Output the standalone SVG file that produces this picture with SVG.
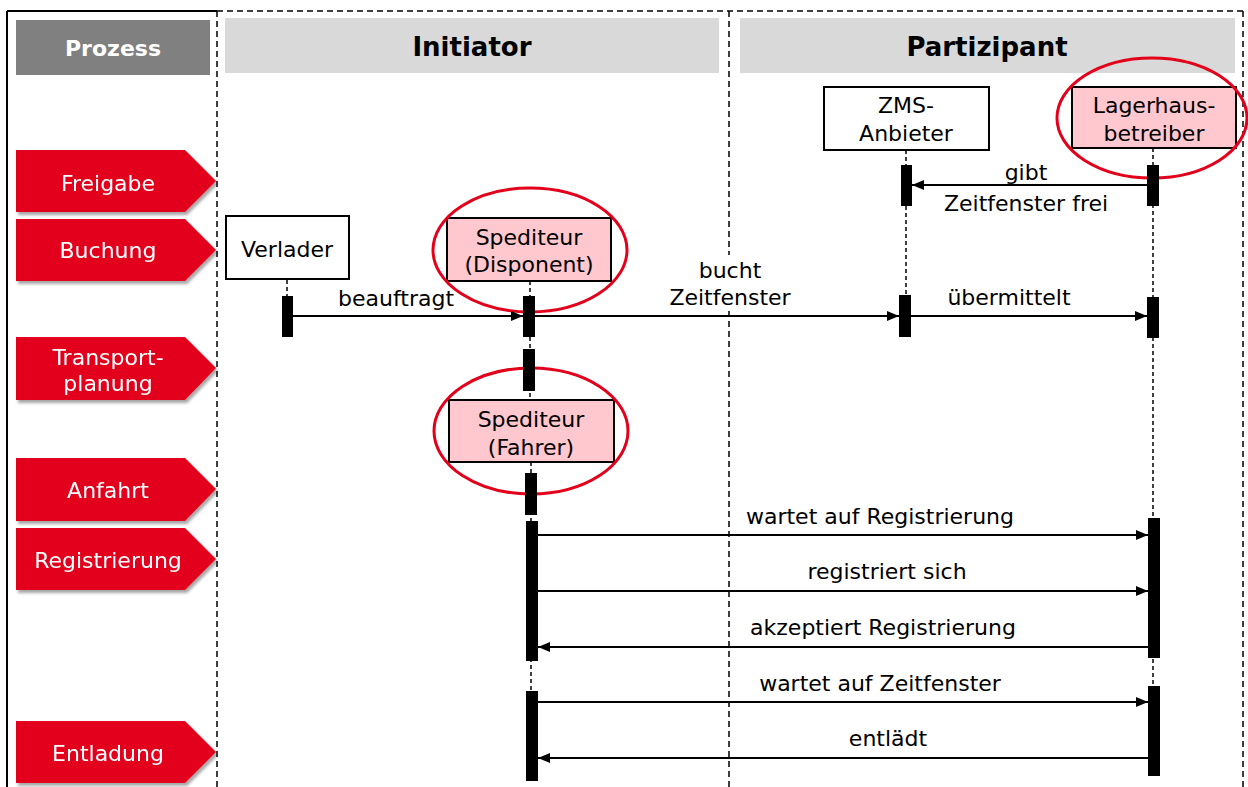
<svg xmlns="http://www.w3.org/2000/svg" width="1248" height="787" viewBox="0 0 1248 787">
  <defs>
    <style>
      text { font-family: "DejaVu Sans", "Liberation Sans", sans-serif; fill: #000; }
      .hdr { font-weight: bold; font-size: 26px; text-anchor: middle; }
      .phase { fill: #e3001b; }
      .phase-t { fill: #fff; font-size: 22px; text-anchor: middle; }
      .box { fill: #fff; stroke: #000; stroke-width: 2; }
      .box.hl { fill: #ffc7ce; }
      .mark { fill: none; stroke: #e3001b; stroke-width: 3; }
      .lbl { font-size: 22px; text-anchor: middle; }
      .life { stroke: #000; stroke-width: 1.5; stroke-dasharray: 4 3; fill: none; }
      .bar { fill: #000; }
      .msg { stroke: #000; stroke-width: 2; fill: none; marker-end: url(#head); }
      .sep { stroke: #000; stroke-width: 1.5; stroke-dasharray: 6 4; fill: none; }
    </style>
    <marker id="head" viewBox="0 0 12 10" refX="12" refY="5" markerWidth="12" markerHeight="10" markerUnits="userSpaceOnUse" orient="auto">
      <path d="M0,0 L12,5 L0,10 z" fill="#000"/>
    </marker>
    <filter id="shadow" x="-10%" y="-10%" width="130%" height="140%">
      <feDropShadow dx="2" dy="3" stdDeviation="1.8" flood-color="#000" flood-opacity="0.35"/>
    </filter>
  </defs>

  <rect width="1248" height="787" fill="#fff"/>

  <!-- frame and lane separators -->
  <g id="frame">
    <line x1="7" y1="11" x2="7" y2="787" stroke="#000" stroke-width="2"/>
    <line x1="7" y1="11" x2="217" y2="11" stroke="#000" stroke-width="2"/>
    <line class="sep" x1="217" y1="11" x2="1243" y2="11"/>
    <line class="sep" x1="217" y1="11" x2="217" y2="787"/>
    <line class="sep" x1="729" y1="11" x2="729" y2="787"/>
    <line class="sep" x1="1243" y1="11" x2="1243" y2="787"/>
  </g>

  <!-- column headers -->
  <g id="headers">
    <rect x="16" y="20" width="194" height="55" fill="#808080"/>
    <text x="113" y="56" class="hdr" style="font-size:22px;fill:#fff">Prozess</text>
    <rect x="225" y="18" width="494" height="55" fill="#d9d9d9"/>
    <text x="472" y="56" class="hdr">Initiator</text>
    <rect x="740" y="18" width="495" height="55" fill="#d9d9d9"/>
    <text x="987" y="56" class="hdr">Partizipant</text>
  </g>

  <!-- process phases -->
  <g id="phases" filter="url(#shadow)">
    <g id="phase-freigabe">
      <polygon class="phase" points="16,150 185,150 216,181 185,212 16,212"/>
      <text x="108" y="191" class="phase-t">Freigabe</text>
    </g>
    <g id="phase-buchung">
      <polygon class="phase" points="16,219 185,219 216,250 185,281 16,281"/>
      <text x="108" y="258" class="phase-t">Buchung</text>
    </g>
    <g id="phase-transportplanung">
      <polygon class="phase" points="16,337 185,337 216,368 185,400 16,400"/>
      <text x="108" y="365" class="phase-t">Transport-</text>
      <text x="108" y="391" class="phase-t">planung</text>
    </g>
    <g id="phase-anfahrt">
      <polygon class="phase" points="16,458 185,458 216,489 185,521 16,521"/>
      <text x="108" y="498" class="phase-t">Anfahrt</text>
    </g>
    <g id="phase-registrierung">
      <polygon class="phase" points="16,528 185,528 216,559 185,590 16,590"/>
      <text x="108" y="568" class="phase-t">Registrierung</text>
    </g>
    <g id="phase-entladung">
      <polygon class="phase" points="16,721 185,721 216,752 185,783 16,783"/>
      <text x="108" y="761" class="phase-t">Entladung</text>
    </g>
  </g>

  <!-- lifelines -->
  <g id="lifelines">
    <line class="life" x1="287" y1="280" x2="287" y2="296"/>
    <line class="life" x1="530" y1="281" x2="530" y2="400"/>
    <line class="life" x1="531" y1="462" x2="531" y2="781"/>
    <line class="life" x1="906" y1="150" x2="906" y2="337"/>
    <line class="life" x1="1153" y1="148" x2="1153" y2="776"/>
  </g>

  <!-- participants -->
  <g id="verlader">
    <rect class="box" x="226" y="216" width="123" height="63"/>
    <text x="287" y="257" class="lbl">Verlader</text>
  </g>
  <g id="spediteur-disponent">
    <rect class="box hl" x="447" y="218" width="164" height="63"/>
    <text x="529" y="245" class="lbl">Spediteur</text>
    <text x="529" y="272" class="lbl">(Disponent)</text>
    <ellipse class="mark" cx="530" cy="250" rx="97" ry="62"/>
  </g>
  <g id="zms-anbieter">
    <rect class="box" x="824" y="87" width="165" height="63"/>
    <text x="906" y="113" class="lbl">ZMS-</text>
    <text x="906" y="141" class="lbl">Anbieter</text>
  </g>
  <g id="lagerhausbetreiber">
    <rect class="box hl" x="1072" y="87" width="164" height="61"/>
    <text x="1154" y="113" class="lbl">Lagerhaus-</text>
    <text x="1154" y="141" class="lbl">betreiber</text>
    <ellipse class="mark" cx="1152" cy="118" rx="95" ry="60"/>
  </g>
  <g id="spediteur-fahrer">
    <rect class="box hl" x="449" y="400" width="165" height="62"/>
    <text x="531" y="427" class="lbl">Spediteur</text>
    <text x="531" y="455" class="lbl">(Fahrer)</text>
    <ellipse class="mark" cx="531" cy="431" rx="97" ry="63"/>
  </g>

  <!-- activation bars -->
  <g id="activations">
    <rect class="bar" x="282" y="296" width="11" height="41"/>
    <rect class="bar" x="523" y="296" width="12" height="41"/>
    <rect class="bar" x="523" y="349" width="12" height="42"/>
    <rect class="bar" x="525" y="473" width="12" height="42"/>
    <rect class="bar" x="526" y="521" width="12" height="140"/>
    <rect class="bar" x="526" y="691" width="12" height="90"/>
    <rect class="bar" x="901" y="165" width="11" height="41"/>
    <rect class="bar" x="899" y="295" width="12" height="42"/>
    <rect class="bar" x="1147" y="165" width="12" height="41"/>
    <rect class="bar" x="1147" y="297" width="12" height="41"/>
    <rect class="bar" x="1148" y="518" width="12" height="140"/>
    <rect class="bar" x="1148" y="686" width="12" height="90"/>
  </g>

  <!-- messages -->
  <g id="connectors">
    <line class="msg" x1="1147" y1="185" x2="912" y2="185"/>
    <text x="1026" y="180" class="lbl">gibt</text>
    <text x="1026" y="211" class="lbl">Zeitfenster frei</text>

    <line class="msg" x1="293" y1="316" x2="523" y2="316"/>
    <text x="396" y="306" class="lbl">beauftragt</text>

    <line class="msg" x1="535" y1="316" x2="899" y2="316"/>
    <rect x="660" y="255" width="140" height="55" fill="#fff"/>
    <text x="730" y="278" class="lbl">bucht</text>
    <text x="730" y="305" class="lbl">Zeitfenster</text>

    <line class="msg" x1="911" y1="316" x2="1147" y2="316"/>
    <text x="1009" y="305" class="lbl">übermittelt</text>

    <line class="msg" x1="538" y1="535" x2="1148" y2="535"/>
    <text x="880" y="524" class="lbl">wartet auf Registrierung</text>

    <line class="msg" x1="538" y1="591" x2="1148" y2="591"/>
    <text x="887" y="579" class="lbl">registriert sich</text>

    <line class="msg" x1="1148" y1="647" x2="538" y2="647"/>
    <text x="883" y="635" class="lbl">akzeptiert Registrierung</text>

    <line class="msg" x1="538" y1="702" x2="1148" y2="702"/>
    <text x="880" y="691" class="lbl">wartet auf Zeitfenster</text>

    <line class="msg" x1="1148" y1="758" x2="538" y2="758"/>
    <text x="888" y="746" class="lbl">entlädt</text>
  </g>
</svg>
